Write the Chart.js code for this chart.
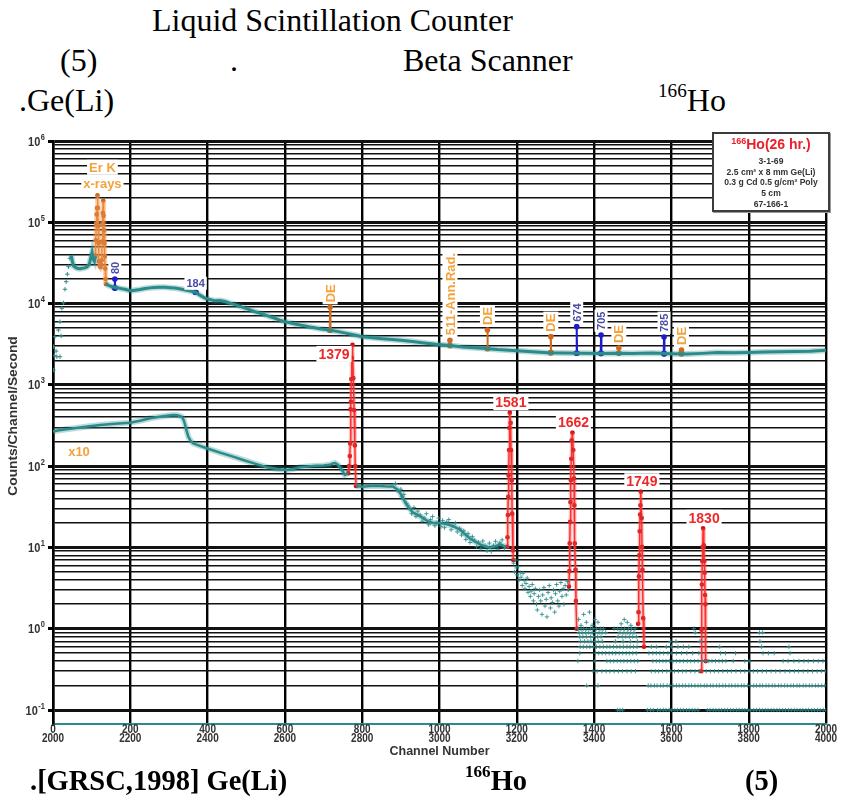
<!DOCTYPE html>
<html>
<head>
<meta charset="utf-8">
<script src="https://cdn.jsdelivr.net/npm/chart.js@4.4.0/dist/chart.umd.min.js"></script>
<style>
  html, body { margin: 0; padding: 0; background: #fff; }
  body { width: 842px; height: 806px; position: relative; overflow: hidden; }
  #chart { position: absolute; left: 0; top: 0; }
  .tx { position: absolute; white-space: nowrap; line-height: 1; color: #000;
        font-family: 'Liberation Serif', 'Times New Roman', serif; }
  .head { font-size: 32px; }
  .foot { font-size: 28.5px; font-weight: bold; }
  .sp { font-size: 60%; position: relative; top: -0.75em; }
  #info { position: absolute; left: 712px; top: 132px; width: 114px; height: 76px;
          border: 2px solid #3c3c3c; background: #fff; text-align: center;
          font: bold 8.6px 'Liberation Sans', Arial, sans-serif; color: #333; line-height: 10.7px;
          box-shadow: 1px 1px 0 #999; }
  #info .hd { font-size: 14px; line-height: 20px; color: #e8202a; }
  #info .hd span { font-size: 9px; position: relative; top: -5px; }
</style>
</head>
<body>
<div class="tx head" style="left:152px; top:4px">Liquid Scintillation Counter</div>
<div class="tx head" style="left:60px; top:44px">(5)</div>
<div class="tx head" style="left:230px; top:44px">.</div>
<div class="tx head" style="left:403px; top:44px">Beta Scanner</div>
<div class="tx head" style="left:19px; top:84px">.Ge(Li)</div>
<div class="tx head" style="left:658px; top:84px"><span class="sp">166</span>Ho</div>

<canvas id="chart" width="842" height="806" style="width:842px;height:806px"></canvas>

<div id="info">
  <div class="hd"><span>166</span>Ho(26 hr.)</div>
  <div>3-1-69</div>
  <div>2.5 cm² x 8 mm Ge(Li)</div>
  <div>0.3 g Cd 0.5 g/cm² Poly</div>
  <div>5 cm</div>
  <div>67-166-1</div>
</div>

<div class="tx foot" style="left:30px; top:767px">.[GRSC,1998] Ge(Li)</div>
<div class="tx foot" style="left:465px; top:767px"><span class="sp">166</span>Ho</div>
<div class="tx foot" style="left:745px; top:767px">(5)</div>

<script>
// axis ticks: one channel axis, two label rows (0-2000 and 2000-4000)
const chTicks = [0, 200, 400, 600, 800, 1000, 1200, 1400, 1600, 1800, 2000];
const chLabelsLow = ['0', '200', '400', '600', '800', '1000', '1200', '1400', '1600', '1800', '2000'];
const chLabelsHigh = ['2000', '2200', '2400', '2600', '2800', '3000', '3200', '3400', '3600', '3800', '4000'];
const decades = [0.1, 1, 10, 100, 1e3, 1e4, 1e5, 1e6];
const decadeExp = ['-1', '0', '1', '2', '3', '4', '5', '6'];

// upper spectrum: rising edge (loose points) then the continuum
const edgeCh = [1, 1, 3, 5, 8, 10, 14, 18, 18, 21, 23, 27, 31, 34, 37, 40, 44];
const edgeCps = [1520, 2950, 2300, 3920, 2600, 2220, 4730, 2220, 5990, 4000, 8750, 10200, 15000, 18600, 23000, 28400, 36000];

const upperCh = [47, 50, 53, 58, 64, 70, 76, 82, 88, 94, 98, 101, 104, 107, 109, 120, 137, 145, 155, 165,
  175, 186, 195, 202, 212, 225, 238, 251, 262, 275, 290, 303, 316, 330, 342, 355, 367, 380, 393, 406,
  419, 432, 445, 458, 471, 484, 497, 510, 523, 536, 549, 561, 574, 587, 600, 613, 626, 639, 655, 670,
  690, 705, 717, 735, 760, 780, 800, 820, 845, 870, 900, 930, 960, 990, 1027, 1060, 1090, 1120, 1150, 1190,
  1230, 1280, 1320, 1370, 1420, 1460, 1500, 1550, 1600, 1640, 1680, 1720, 1760, 1800, 1840, 1880, 1920, 1960, 2000];
const upperCps = [39600, 33500, 29000, 27800, 27000, 26800, 27200, 27500, 28200, 30500, 37000, 42300, 35000, 33000, 38000, null, 17400, 16600, 16000, 15700,
  15300, 15000, 14600, 14400, 14600, 14900, 15300, 15600, 15800, 15900, 15900, 15700, 15500, 15100, 14700, 14300, 13900, 12700, 11700, 11200,
  10800, 10900, 10600, 10100, 9700, 9250, 8800, 8350, 7940, 7600, 7250, 6900, 6600, 6250, 5980, 5800, 5620, 5450, 5280, 5100,
  4900, 4780, 4700, 4550, 4300, 4100, 3910, 3820, 3730, 3640, 3530, 3420, 3280, 3150, 3050, 2920, 2860, 2800, 2720, 2650,
  2570, 2490, 2470, 2450, 2440, 2450, 2430, 2460, 2420, 2400, 2440, 2500, 2490, 2510, 2540, 2560, 2580, 2600, 2660];

// Er K x-ray doublet
const erKCh = [109, 110, 111, 112, 113, 114, 115, 116, 117, 118, 119, 121, 123, 125, 126, 127, 128, 129, 130, 131, 132, 133, 134, 135, 136, 137];
const erKCps = [38000, 39000, 60000, 95000, 125000, 150000, 215000, 150000, 90000, 55000, 33000, 29000, 28000, 30000, 34000, 58000, 95000, 130000, 184000, 120000, 80000, 55000, 38000, 27000, 20000, 17400];

// small peaks marked on the upper spectrum
const markText = ['80', '184', 'DE', '511-Ann.Rad.', 'DE', 'DE', '674', '705', 'DE', '785', 'DE'];
const markCh = [160, 369, 717, 1027, 1124, 1288, 1355, 1418, 1464, 1581, 1626];
const markTop = [20000, 13800, 9000, 3540, 4730, 3920, 5200, 4110, 2840, 3880, 2690];
const markBase = [15500, 13800, 4700, 3050, 2800, 2490, 2450, 2440, 2450, 2420, 2420];
const markBlue = [true, true, false, false, false, false, true, true, false, true, false];
const markUpright = [true, false, true, true, true, true, true, true, true, true, true];

// lower spectrum (x10)
const lowerCh = [0, 12, 35, 60, 90, 122, 160, 199, 225, 251, 280, 300, 311, 322, 333, 338, 342, 346, 350, 356,
  363, 380, 398, 430, 466, 490, 518, 535, 553, 580, 605, 620, 639, 660, 680, 700, 717, 724, 730, 737,
  743, 750, 755, 760, 763, 770, 784, 800, 820, 846, 870, 880, 890, 898, 905, 911, 920, 931, 945, 957,
  970, 983, 1001, 1015, 1027, 1040, 1053, 1066, 1079, 1092, 1105, 1118, 1131, 1144, 1156, 1165, 1172];
const lowerCps = [266, 275, 285, 295, 308, 321, 333, 343, 362, 388, 408, 420, 427, 422, 406, 370, 321, 270, 231, 205,
  191, 178, 166, 148, 131, 120, 109, 103, 97, 92, 90, 92, 97, 99, 101, 102, 104, 108, 109, 104,
  96, 86, 78, 80, 82, null, 57, 56, 57, 57, 56, 56, 52, 47, 41, 36, 31, 27, 25, 23,
  21, 20, 20, 19.5, 18.8, 17.8, 16.6, 14.5, 12.9, 11.8, 10.9, 10.3, 9.9, 10.3, 10.9, 10.5, 10.1];

// scattered channels where the lower spectrum gets noisy
const cloudCh = [886, 893, 900, 903, 908, 914, 918, 924, 928, 934, 939, 944, 950, 955, 960, 966, 972, 977, 982, 988,
  993, 998, 1004, 1008, 1013, 1019, 1024, 1030, 1035, 1041, 1046, 1052, 1057, 1063, 1068, 1074, 1079, 1085, 1090, 1096,
  1101, 1107, 1112, 1118, 1123, 1129, 1134, 1140, 1145, 1151, 1156, 1162, 1168,
  1192, 1194, 1197, 1199, 1201, 1204, 1206, 1209, 1211, 1214, 1216, 1219, 1221, 1224, 1227, 1229, 1232, 1235, 1237, 1240,
  1243, 1245, 1248, 1251, 1253, 1256, 1259, 1262, 1265, 1267, 1270, 1273, 1276, 1278, 1281, 1284, 1287, 1289, 1292, 1295,
  1298, 1300, 1303, 1306, 1309, 1311, 1314, 1317, 1320, 1322, 1325, 1328, 1331, 1333,
  1360, 1366, 1373, 1380, 1388, 1395, 1402, 1410, 1470, 1478, 1486, 1495];
const cloudCps = [61, 50, 52, 42, 45, 35, 33, 30, 26, 31, 24, 28, 25, 21, 23, 26, 19, 22, 24, 18.5,
  20, 23, 18, 21.5, 17.5, 20.5, 22, 16.5, 18.5, 20, 15.5, 17, 14.2, 16, 12.5, 14.8, 11.5, 13.6, 12.3, 10.2,
  11.6, 9.6, 12, 10.5, 9.1, 11.3, 8.9, 10.6, 11.9, 9.5, 11.4, 12.4, 9.7,
  6.4, 5.0, 7.0, 5.6, 4.6, 5.8, 4.0, 4.9, 4.3, 3.4, 4.8, 3.9, 3.1, 3.6, 4.2, 2.8, 3.3, 2.5, 2.9, 3.5,
  2.2, 2.7, 3.1, 2.0, 1.7, 2.5, 3.0, 2.2, 1.5, 2.6, 3.2, 1.9, 2.3, 1.4, 2.8, 3.4, 1.8, 2.4, 2.1, 3.0,
  1.6, 2.7, 3.5, 2.2, 1.9, 2.9, 3.7, 2.5, 3.1, 2.0, 3.4, 2.6, 3.8, 3.0,
  1.3, 1.1, 1.5, 1.2, 1.6, 1.1, 1.3, 1.2, 1.15, 1.3, 1.2, 1.1];

// low-count tail: rates come in steps of 0.1, channels listed per level
const tailLevels = [1.0, 0.9, 0.8, 0.7, 0.6, 0.5, 0.4, 0.3, 0.2, 0.1];
const tailCh = [
  [1358, 1366, 1373, 1381, 1390, 1397, 1406, 1416, 1424, 1452, 1461, 1470, 1479, 1489, 1497, 1506, 1658],
  [1361, 1369, 1378, 1386, 1395, 1403, 1413, 1421, 1430, 1467, 1477, 1486, 1494, 1503, 1662, 1828, 1836],
  [1363, 1371, 1380, 1391, 1399, 1409, 1418, 1462, 1473, 1482, 1491, 1500, 1509],
  [1365, 1375, 1384, 1392, 1402, 1411, 1421, 1455, 1475, 1494, 1512, 1598, 1612, 1674, 1829],
  [1364, 1372, 1381, 1389, 1398, 1406, 1415, 1424, 1433, 1441, 1450, 1459, 1467, 1476, 1485, 1493, 1502, 1511,
   1548, 1561, 1587, 1600, 1617, 1631, 1645, 1725, 1833, 1904],
  [1363, 1404, 1412, 1421, 1430, 1439, 1447, 1456, 1465, 1474, 1483, 1491, 1500, 1509, 1542, 1552, 1561, 1570,
   1580, 1591, 1601, 1613, 1626, 1640, 1655, 1671, 1727, 1740, 1766, 1837, 1851, 1866, 1907],
  [1358, 1402, 1433, 1442, 1451, 1460, 1469, 1477, 1486, 1495, 1504, 1513, 1552, 1561, 1569, 1578, 1586, 1595,
   1604, 1613, 1622, 1631, 1641, 1650, 1660, 1669, 1679, 1688, 1697, 1705, 1714, 1723, 1732, 1741, 1760, 1790,
   1801, 1889, 1902, 1917, 1930, 1943, 1954, 1968, 1980, 1992],
  [1397, 1408, 1420, 1431, 1441, 1452, 1463, 1473, 1485, 1496, 1507, 1548, 1558, 1567, 1577, 1588, 1597, 1608,
   1618, 1629, 1638, 1650, 1661, 1671, 1690, 1701, 1711, 1722, 1733, 1745, 1755, 1767, 1779, 1790, 1801, 1812,
   1823, 1835, 1846, 1858, 1870, 1881, 1894, 1906, 1918, 1929, 1941, 1953, 1965, 1977, 1988, 1998],
  [1381, 1410, 1540, 1547, 1556, 1563, 1572, 1579, 1589, 1596, 1604, 1613, 1620, 1629, 1636, 1645, 1652, 1661,
   1669, 1676, 1685, 1692, 1701, 1708, 1717, 1724, 1733, 1740, 1749, 1756, 1765, 1772, 1781, 1788, 1797, 1804,
   1813, 1820, 1829, 1836, 1845, 1852, 1861, 1868, 1877, 1884, 1893, 1900, 1909, 1916, 1925, 1932, 1941, 1948,
   1957, 1964, 1973, 1980, 1989, 1997],
  [1461, 1467, 1474, 1538, 1546, 1553, 1564, 1571, 1579, 1586, 1594, 1601, 1609, 1616, 1624, 1631, 1639, 1646,
   1654, 1661, 1669, 1693, 1700, 1708, 1715, 1723, 1730, 1738, 1745, 1753, 1760, 1768, 1775, 1783, 1790, 1798,
   1805, 1813, 1820, 1828, 1835, 1843, 1850, 1858, 1865, 1873, 1880, 1888, 1895, 1903, 1910, 1918, 1925, 1933,
   1940, 1948, 1955, 1963, 1970, 1978, 1985, 1993, 2000]
];

// full-energy peaks of the lower spectrum (keV labels)
const redPeakText = ['1379', '1581', '1662', '1749', '1830'];
const redPeakCh = [
  [764, 766, 768, 769, 770, 771, 772, 773, 775, 777, 779, 781, 782, 784],
  [1175, 1176, 1177, 1178, 1179, 1180, 1181, 1182, 1184, 1185, 1187, 1188, 1190, 1191],
  [1335, 1336, 1337, 1338, 1339, 1340, 1341, 1342, 1344, 1346, 1348, 1349, 1350, 1352, 1353, 1355],
  [1514, 1515, 1516, 1517, 1518, 1519, 1520, 1521, 1523, 1524, 1525, 1527, 1529],
  [1677, 1678, 1679, 1680, 1681, 1682, 1684, 1685, 1686, 1687, 1688, 1689]
];
const redPeakCps = [
  [82, 100, 133, 190, 500, 620, 1180, 2150, 3100, 1210, 490, 180, 100, 57],
  [10.2, 13.3, 25, 42, 77, 158, 295, 455, 340, 158, 67, 26, 9.2, 7],
  [3.3, 5.1, 11.2, 20.6, 36, 67, 123, 207, 258, 158, 71, 33, 11.2, 5.3, 2.2, 1.0],
  [1.15, 1.6, 4.4, 8, 15.8, 25.4, 33, 48.5, 23, 10.2, 5.3, 1.35, 0.6],
  [0.3, 0.97, 3.5, 6.8, 10.2, 17.2, 10.6, 6.8, 4.9, 2.6, 2.0, 0.4]
];

const SANS = "'Liberation Sans', Arial, sans-serif";
const TEAL = '#2a8c8a';
const TEAL_HAZE = 'rgba(42,140,138,0.3)';
const RED = '#ff1a1a';
const BLUE = '#1c1ccc';
const BROWN = '#d06a1c';
const ORANGE_TXT = '#f4a23c';
const BLUE_TXT = '#4b4ba8';
const AXIS_TXT = '#333';

const pts = (xs, ys) => xs.map((c, i) => ({ x: c, y: ys[i] }));
const isDecade = v => Math.abs(Math.log10(v) - Math.round(Math.log10(v))) < 1e-6;

const datasets = [];

// upper spectrum (a soft wide stroke under the main one gives the band its fuzz)
datasets.push({ data: pts(edgeCh, edgeCps), showLine: false, pointStyle: 'cross', pointRadius: 2.2,
  pointBorderWidth: 1, borderColor: TEAL });
datasets.push({ data: pts(upperCh, upperCps), showLine: true, borderColor: TEAL_HAZE, borderWidth: 6,
  pointRadius: 0, spanGaps: false });
datasets.push({ data: pts(upperCh, upperCps), showLine: true, borderColor: TEAL, borderWidth: 3,
  pointRadius: 0, spanGaps: false });

// lower spectrum
datasets.push({ data: pts(lowerCh, lowerCps), showLine: true, borderColor: TEAL_HAZE, borderWidth: 6,
  pointRadius: 0, spanGaps: false });
datasets.push({ data: pts(lowerCh, lowerCps), showLine: true, borderColor: TEAL, borderWidth: 2.5,
  pointRadius: 0, spanGaps: false });
datasets.push({ data: pts(cloudCh, cloudCps), showLine: false, pointStyle: 'cross', pointRadius: 2.2,
  pointBorderWidth: 1, borderColor: 'rgba(42,140,138,0.85)' });
datasets.push({ data: tailLevels.flatMap((v, i) => tailCh[i].map(c => ({ x: c, y: v }))), showLine: false,
  pointStyle: 'cross', pointRadius: 2.2, pointBorderWidth: 1, borderColor: 'rgba(42,140,138,0.85)' });

// Er K x-rays
datasets.push({ data: pts(erKCh, erKCps), showLine: true, borderColor: 'rgba(244,160,90,0.45)',
  borderWidth: 5, pointRadius: 0 });
datasets.push({ data: pts(erKCh, erKCps), showLine: true, borderColor: '#e8781e', borderWidth: 1.5,
  pointRadius: 1.6, pointBackgroundColor: '#c8601a', pointBorderColor: '#c8601a' });

// red peaks: pale band underneath, thin line with dots on top
redPeakCh.forEach((chs, i) => {
  datasets.push({ data: pts(chs, redPeakCps[i]), showLine: true, borderColor: 'rgba(255,90,90,0.35)',
    borderWidth: 4, pointRadius: 0 });
  datasets.push({ data: pts(chs, redPeakCps[i]), showLine: true, borderColor: RED, borderWidth: 1.5,
    pointRadius: 1.6, pointBackgroundColor: '#d01010', pointBorderColor: '#d01010' });
});

// peak markers on the upper spectrum
markCh.forEach((c, i) => {
  const col = markBlue[i] ? BLUE : BROWN;
  datasets.push({
    data: [{ x: c - 1, y: markBase[i] }, { x: c, y: markTop[i] }, { x: c + 1, y: markBase[i] }],
    showLine: true, borderColor: col, borderWidth: 2, pointRadius: 1.8,
    pointBackgroundColor: col, pointBorderColor: col
  });
});

// text with a white box behind it
function tag(ctx, text, px, py, font, color, mode) {
  ctx.save();
  ctx.font = font;
  const w = ctx.measureText(text).width;
  const h = parseFloat(font.match(/([\d.]+)px/)[1]);
  ctx.translate(px, py);
  let x0;
  if (mode === 'up') { ctx.rotate(-Math.PI / 2); x0 = 0; }
  else if (mode === 'right') x0 = -w;
  else x0 = -w / 2;
  ctx.fillStyle = '#fff';
  ctx.fillRect(x0 - 2, -h / 2 - 1, w + 4, h + 2);
  ctx.fillStyle = color;
  ctx.textBaseline = 'middle';
  ctx.textAlign = 'left';
  ctx.fillText(text, x0, 1);
  ctx.restore();
}

// axis text is slightly taller than wide
function tallText(ctx, text, x, y, size, align, stretch) {
  ctx.save();
  ctx.translate(x, y);
  ctx.scale(1, stretch);
  ctx.font = 'bold ' + size + 'px ' + SANS;
  ctx.textAlign = align;
  ctx.textBaseline = 'alphabetic';
  ctx.fillText(text, 0, 0);
  ctx.restore();
}

const annotate = {
  id: 'annotate',
  afterDatasetsDraw(chart) {
    const ctx = chart.ctx;
    const xs = chart.scales.x, ys = chart.scales.y;

    markCh.forEach((c, i) => {
      const px = xs.getPixelForValue(c);
      const py = ys.getPixelForValue(markTop[i]);
      const font = markBlue[i] ? 'bold 11px ' + SANS : 'bold 13px ' + SANS;
      const color = markBlue[i] ? BLUE_TXT : ORANGE_TXT;
      if (markUpright[i]) tag(ctx, markText[i], px, py - 5, font, color, 'up');
      else tag(ctx, markText[i], px, py - 9, font, color, 'center');
    });

    // Er K label above the doublet
    const erTop = Math.max(...erKCps);
    const ex = xs.getPixelForValue(erKCh[erKCps.indexOf(erTop)]) + 5;
    const ey = ys.getPixelForValue(erTop);
    tag(ctx, 'Er K', ex, ey - 28, 'bold 13px ' + SANS, ORANGE_TXT, 'center');
    tag(ctx, 'x-rays', ex, ey - 12, 'bold 13px ' + SANS, ORANGE_TXT, 'center');

    redPeakCh.forEach((chs, i) => {
      const top = Math.max(...redPeakCps[i]);
      const px = xs.getPixelForValue(chs[redPeakCps[i].indexOf(top)]);
      const py = ys.getPixelForValue(top);
      if (i === 0) tag(ctx, redPeakText[i], px - 3, py + 9, 'bold 14px ' + SANS, '#ee2828', 'right');
      else tag(ctx, redPeakText[i], px + 1, py - 10.5, 'bold 14px ' + SANS, '#ee2828', 'center');
    });

    // scale factor of the lower spectrum
    ctx.save();
    ctx.font = 'bold 13px ' + SANS;
    ctx.fillStyle = ORANGE_TXT;
    ctx.textAlign = 'center';
    ctx.textBaseline = 'middle';
    ctx.fillText('x10', xs.getPixelForValue(lowerCh[0]) + 26, ys.getPixelForValue(lowerCps[0]) + 21);
    ctx.restore();
  },
  afterDraw(chart) {
    const ctx = chart.ctx;
    const area = chart.chartArea;
    const xs = chart.scales.x, ys = chart.scales.y;
    ctx.save();
    ctx.fillStyle = AXIS_TXT;

    // two rows of channel labels
    chTicks.forEach((v, i) => {
      const px = xs.getPixelForValue(v);
      tallText(ctx, chLabelsLow[i], px, area.bottom + 9, 10, 'center', 1.2);
      tallText(ctx, chLabelsHigh[i], px, area.bottom + 18, 10, 'center', 1.2);
    });

    // decade labels written as 10 with a raised exponent
    decades.forEach((d, i) => {
      const py = ys.getPixelForValue(d);
      ctx.font = 'bold 7.5px ' + SANS;
      const ew = ctx.measureText(decadeExp[i]).width;
      tallText(ctx, decadeExp[i], 45, py - 1.5, 7.5, 'right', 1.1);
      tallText(ctx, '10', 45 - ew - 0.5, py + 4.5, 11, 'right', 1.1);
    });

    ctx.font = 'bold 12.5px ' + SANS;
    ctx.textAlign = 'center';
    ctx.textBaseline = 'middle';
    ctx.fillText('Channel Number', (area.left + area.right) / 2, area.bottom + 28);
    ctx.translate(14, area.top + 275);
    ctx.rotate(-Math.PI / 2);
    ctx.scale(1.15, 1);
    ctx.font = 'bold 12px ' + SANS;
    ctx.fillText('Counts/Channel/Second', 0, 0);
    ctx.restore();
  }
};

new Chart(document.getElementById('chart'), {
  type: 'scatter',
  data: { datasets },
  options: {
    responsive: false,
    devicePixelRatio: 1,
    animation: false,
    events: [],
    layout: { padding: { top: 141, right: 16, bottom: 46, left: 0 } },
    plugins: { legend: { display: false }, tooltip: { enabled: false } },
    scales: {
      x: {
        type: 'linear', min: 0, max: 2000,
        afterFit: s => { s.height = 36; },
        afterBuildTicks: s => { s.ticks = chTicks.map(v => ({ value: v })); },
        ticks: { display: false, autoSkip: false },
        grid: { color: '#000', lineWidth: 2.4, drawTicks: false },
        border: { color: TEAL, width: 2 }
      },
      y: {
        type: 'logarithmic', min: 0.0673, max: 1e6,
        afterFit: s => { s.width = 53; },
        afterBuildTicks: s => {
          const t = [];
          for (let e = -1; e < 6; e++) for (let m = 1; m < 10; m++) t.push({ value: m * Math.pow(10, e) });
          t.push({ value: 1e6 });
          s.ticks = t;
        },
        ticks: { display: false, autoSkip: false },
        grid: {
          color: '#111',
          lineWidth: c => (c.tick && isDecade(c.tick.value)) ? 3 : 1.6,
          tickLength: 5,
          tickColor: c => (c.tick && isDecade(c.tick.value)) ? '#000' : 'rgba(0,0,0,0)'
        },
        border: { color: '#000', width: 2.5 }
      }
    }
  },
  plugins: [annotate]
});
</script>
</body>
</html>
